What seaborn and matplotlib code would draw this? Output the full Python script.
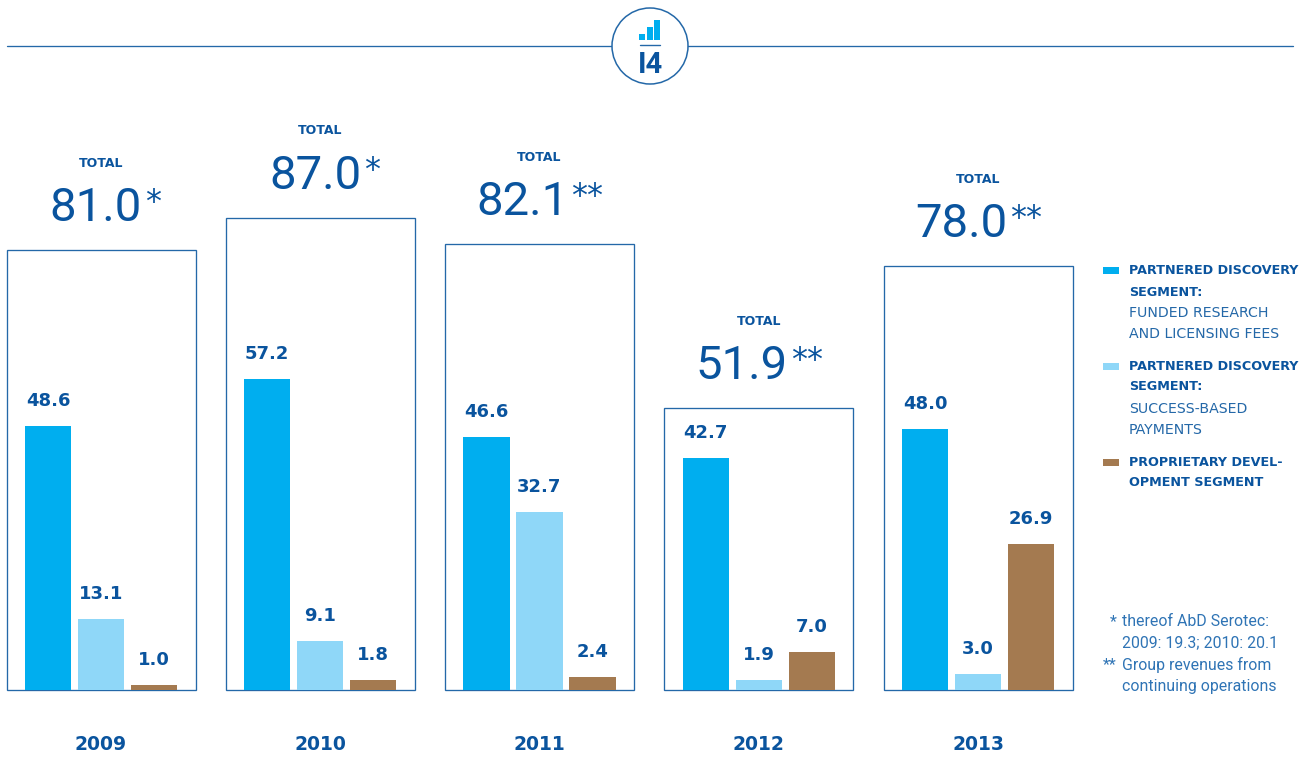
import matplotlib
matplotlib.use("Agg")
import matplotlib.pyplot as plt
import seaborn as sns
import pandas as pd
from matplotlib.patches import Circle, Rectangle

years = ["2009", "2010", "2011", "2012", "2013"]
segments = ["Funded", "Success", "Proprietary"]
funded = [48.6, 57.2, 46.6, 42.7, 48.0]
success = [13.1, 9.1, 32.7, 1.9, 3.0]
proprietary = [1.0, 1.8, 2.4, 7.0, 26.9]
totals = [81.0, 87.0, 82.1, 51.9, 78.0]
total_stars = ["*", "*", "**", "**", "**"]
icon_levels = ["a", "b", "c"]
icon_values = [1, 2.4, 3.8]

BLUE, LIGHT, BROWN = "#00AEEF", "#8FD7F8", "#A47A50"
NAVY, LINE, SOFT = "#0A549E", "#2468A8", "#2F74B5"
W, H = 1312, 757

sns.set_theme(style="white")
fig = plt.figure(figsize=(W / 100, H / 100), dpi=100, facecolor="white")

# main chart: whole figure, scaled so value 0 sits on the frame baseline
ax = fig.add_axes([0, 0, 1, 1])
sns.barplot(x=years, y=totals, fill=False, color=LINE, width=189 / 219.25,
            linewidth=0.95, saturation=1, ax=ax, order=years)
n_frames = len(ax.containers)
long = pd.DataFrame({
    "year": years * 3,
    "segment": [s for s in segments for _ in years],
    "value": funded + success + proprietary,
})
sns.barplot(data=long, x="year", y="value", hue="segment", order=years,
            hue_order=segments, palette=[BLUE, LIGHT, BROWN], saturation=1,
            width=159 / 219.25, gap=0.13, legend=False, ax=ax, linewidth=0)
for c in ax.containers[n_frames:]:
    ax.bar_label(c, fmt="%.1f", padding=11.5, color=NAVY, fontsize=13,
                 fontweight="bold", family="DejaVu Sans")
scale = 5.43
ax.set_xlim(-101.0 / 219.25, (W - 101.0) / 219.25)
ax.set_ylim((690 - H) / scale, 690 / scale)
ax.axis("off")
ax.patch.set_alpha(0)

PT = 0.72  # points per pixel
for i, (t, star, yr) in enumerate(zip(totals, total_stars, years)):
    right = 41 if len(star) == 1 else 29
    ax.annotate("TOTAL", (i, t), xytext=(0, 87 * PT), textcoords="offset points",
                ha="center", va="center", color=NAVY, fontsize=9,
                family="DejaVu Sans", fontweight="bold")
    ax.annotate(f"{t:.1f}", (i, t), xytext=(right * PT, 29 * PT), textcoords="offset points",
                ha="right", va="baseline", color=NAVY, fontsize=34, family="Roboto")
    ax.annotate(star, (i, t), xytext=((right + 3) * PT, 39 * PT), textcoords="offset points",
                ha="left", va="baseline", color=NAVY, fontsize=23, family="DejaVu Sans")
    ax.annotate(yr, (i, 0), xytext=(0, -39), textcoords="offset points",
                ha="center", va="center", color=NAVY, fontsize=13.5,
                family="DejaVu Sans", fontweight="bold")

# overlay in pixel units for the header, legend and notes
ov = fig.add_axes([0, 0, 1, 1], facecolor="none")
ov.set_xlim(0, W)
ov.set_ylim(H, 0)
ov.axis("off")
ov.plot([7, 1293], [46, 46], color=LINE, lw=0.95)
ov.add_patch(Circle((650, 46), 38, facecolor="white", edgecolor=LINE, lw=1.1, zorder=3))
ov.plot([640, 660], [45, 45], color=LINE, lw=1.0, zorder=4)
ov.text(650.5, 65, "I4", ha="center", va="center", color=NAVY, fontsize=21,
        fontweight="bold", family="Roboto", zorder=4)

icon = fig.add_axes([638.5 / W, 1 - 39.5 / H, 22.5 / W, 20 / H], facecolor="none", zorder=5)
sns.barplot(x=icon_levels, y=icon_values, color=BLUE, saturation=1, width=0.74,
            linewidth=0, ax=icon)
icon.set_xlim(-0.5, 2.5)
icon.set_ylim(0, 3.8)
icon.axis("off")

legend_rows = [
    (270, "PARTNERED DISCOVERY", True), (292, "SEGMENT:", True),
    (313, "FUNDED RESEARCH", False), (334, "AND LICENSING FEES", False),
    (366, "PARTNERED DISCOVERY", True), (387, "SEGMENT:", True),
    (409, "SUCCESS-BASED", False), (430, "PAYMENTS", False),
    (462, "PROPRIETARY DEVEL-", True), (483, "OPMENT SEGMENT", True),
]
for y, s, bold in legend_rows:
    ov.text(1129, y, s, va="center", ha="left", color=NAVY if bold else LINE,
            fontsize=9.2 if bold else 10.2, family="DejaVu Sans",
            fontweight="bold" if bold else "normal")
for y, col in [(270.5, BLUE), (366.5, LIGHT), (462.5, BROWN)]:
    ov.add_patch(Rectangle((1103, y - 3.5), 16, 7, facecolor=col, edgecolor="none"))

notes = [(622, "thereof AbD Serotec:", "*"), (643, "2009: 19.3; 2010: 20.1", ""),
         (665, "Group revenues from", "**"), (686, "continuing operations", "")]
for y, s, star in notes:
    ov.text(1122, y, s, va="center", ha="left", color=SOFT, fontsize=11.4, family="Roboto")
    if star:
        ov.text(1117, y, star, va="center", ha="right", color=SOFT, fontsize=11.4, family="Roboto")

fig.savefig("out.png", dpi=100, facecolor="white")
